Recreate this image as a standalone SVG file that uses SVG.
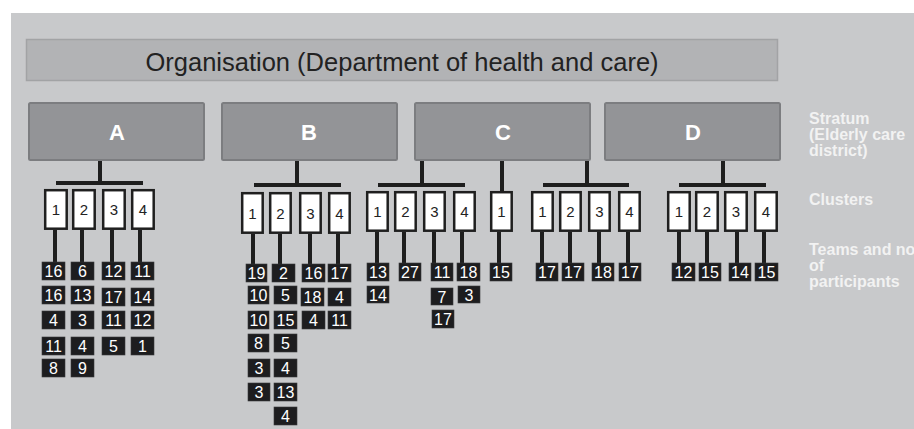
<svg xmlns="http://www.w3.org/2000/svg" width="914" height="429" viewBox="0 0 914 429">
<style>
.panel{fill:#c8c9cb}
.hdr{fill:#b2b3b5;stroke:#a2a3a5;stroke-width:1.5}
.str{fill:#939497;stroke:#7c7d80;stroke-width:2}
.cl{fill:#fff;stroke:#1f1f1f;stroke-width:2.5}
.tm{fill:#1d1d1f;stroke:#3a3a3c;stroke-width:0.6}
.ln{stroke:#1e1e1e;stroke-width:4;fill:none}
text{font-family:"Liberation Sans",Arial,sans-serif}
.ht{font-size:25.5px;fill:#222;text-anchor:middle}
.st{font-size:22px;font-weight:bold;fill:#fff;text-anchor:middle}
.ct{font-size:15px;fill:#222;text-anchor:middle}
.tt{font-size:16px;fill:#fff;text-anchor:middle}
.lb{font-size:16px;font-weight:bold;fill:#f2f2f2}
</style>
<rect class="panel" x="11" y="13" width="903" height="416"/>
<g id="organisation">
<rect class="hdr" x="26.5" y="39.5" width="751" height="41"/>
<text class="ht" x="402" y="71">Organisation (Department of health and care)</text>
</g>
<g id="connectors">
<path class="ln" d="M100 160V183M56 183H143M297 160V185M254 185H341M422 160V185M378 185H465M502 160V191M587 160V185M543 185H629M723 160V185M679 185H766"/>
<path class="ln" d="M55 230V262M82 230V262M112 230V262M140 230V262M253 234V264M280 234V264M310 234V264M338 234V264M377 232V263M404 232V263M434 232V263M462 232V263M499 232V263M542 232V263M570 232V263M599 232V263M628 232V263M679 232V263M707 232V263M737 232V263M764 232V263"/>
</g>
<g id="stratum-A"><rect class="str" x="29" y="103" width="175" height="57" rx="1.5"/><text class="st" x="117" y="140">A</text></g>
<g id="stratum-B"><rect class="str" x="222" y="103" width="175" height="57" rx="1.5"/><text class="st" x="309" y="140">B</text></g>
<g id="stratum-C"><rect class="str" x="415" y="103" width="175" height="57" rx="1.5"/><text class="st" x="503" y="140">C</text></g>
<g id="stratum-D"><rect class="str" x="605" y="103" width="175" height="57" rx="1.5"/><text class="st" x="693" y="140">D</text></g>
<g id="clusters-A">
<rect class="cl" x="45.2" y="190.2" width="21.5" height="38.5"/><text class="ct" x="56" y="215">1</text>
<rect class="cl" x="73.2" y="190.2" width="21.5" height="38.5"/><text class="ct" x="84" y="215">2</text>
<rect class="cl" x="103.2" y="190.2" width="21.5" height="38.5"/><text class="ct" x="114" y="215">3</text>
<rect class="cl" x="132.2" y="190.2" width="21.5" height="38.5"/><text class="ct" x="143" y="215">4</text>
</g>
<g id="clusters-B">
<rect class="cl" x="242.2" y="193.2" width="20.5" height="39.5"/><text class="ct" x="252.5" y="218.5">1</text>
<rect class="cl" x="270.2" y="193.2" width="20.5" height="39.5"/><text class="ct" x="280.5" y="218.5">2</text>
<rect class="cl" x="300.2" y="193.2" width="20.5" height="39.5"/><text class="ct" x="310.5" y="218.5">3</text>
<rect class="cl" x="329.2" y="193.2" width="20.5" height="39.5"/><text class="ct" x="339.5" y="218.5">4</text>
</g>
<g id="clusters-C">
<rect class="cl" x="367.2" y="192.2" width="20.5" height="38.5"/><text class="ct" x="377.5" y="217">1</text>
<rect class="cl" x="395.2" y="192.2" width="20.5" height="38.5"/><text class="ct" x="405.5" y="217">2</text>
<rect class="cl" x="424.2" y="192.2" width="20.5" height="38.5"/><text class="ct" x="434.5" y="217">3</text>
<rect class="cl" x="454.2" y="192.2" width="20.5" height="38.5"/><text class="ct" x="464.5" y="217">4</text>
<rect class="cl" x="491.2" y="192.2" width="20.5" height="38.5"/><text class="ct" x="501.5" y="217">1</text>
<rect class="cl" x="532.2" y="192.2" width="20.5" height="38.5"/><text class="ct" x="542.5" y="217">1</text>
<rect class="cl" x="560.2" y="192.2" width="20.5" height="38.5"/><text class="ct" x="570.5" y="217">2</text>
<rect class="cl" x="589.2" y="192.2" width="20.5" height="38.5"/><text class="ct" x="599.5" y="217">3</text>
<rect class="cl" x="619.2" y="192.2" width="20.5" height="38.5"/><text class="ct" x="629.5" y="217">4</text>
</g>
<g id="clusters-D">
<rect class="cl" x="668.2" y="192.2" width="21.5" height="38.5"/><text class="ct" x="679" y="217">1</text>
<rect class="cl" x="696.2" y="192.2" width="21.5" height="38.5"/><text class="ct" x="707" y="217">2</text>
<rect class="cl" x="725.2" y="192.2" width="21.5" height="38.5"/><text class="ct" x="736" y="217">3</text>
<rect class="cl" x="755.2" y="192.2" width="21.5" height="38.5"/><text class="ct" x="766" y="217">4</text>
</g>
<g id="teams-A">
<rect class="tm" x="42" y="262" width="23" height="18"/><text class="tt" x="53.5" y="277">16</text>
<rect class="tm" x="42" y="286" width="23" height="18"/><text class="tt" x="53.5" y="301">16</text>
<rect class="tm" x="42" y="311" width="23" height="18"/><text class="tt" x="53.5" y="326">4</text>
<rect class="tm" x="42" y="337" width="23" height="18"/><text class="tt" x="53.5" y="352">11</text>
<rect class="tm" x="42" y="359" width="23" height="18"/><text class="tt" x="53.5" y="374">8</text>
<rect class="tm" x="71" y="262" width="23" height="18"/><text class="tt" x="82.5" y="277">6</text>
<rect class="tm" x="71" y="286" width="23" height="18"/><text class="tt" x="82.5" y="301">13</text>
<rect class="tm" x="71" y="311" width="23" height="18"/><text class="tt" x="82.5" y="326">3</text>
<rect class="tm" x="71" y="337" width="23" height="18"/><text class="tt" x="82.5" y="352">4</text>
<rect class="tm" x="71" y="359" width="23" height="18"/><text class="tt" x="82.5" y="374">9</text>
<rect class="tm" x="102" y="262" width="23" height="18"/><text class="tt" x="113.5" y="277">12</text>
<rect class="tm" x="102" y="288" width="23" height="18"/><text class="tt" x="113.5" y="303">17</text>
<rect class="tm" x="102" y="311" width="23" height="18"/><text class="tt" x="113.5" y="326">11</text>
<rect class="tm" x="102" y="337" width="23" height="18"/><text class="tt" x="113.5" y="352">5</text>
<rect class="tm" x="131" y="262" width="23" height="18"/><text class="tt" x="142.5" y="277">11</text>
<rect class="tm" x="131" y="288" width="23" height="18"/><text class="tt" x="142.5" y="303">14</text>
<rect class="tm" x="131" y="311" width="23" height="18"/><text class="tt" x="142.5" y="326">12</text>
<rect class="tm" x="131" y="337" width="23" height="18"/><text class="tt" x="142.5" y="352">1</text>
</g>
<g id="teams-B">
<rect class="tm" x="246" y="264" width="21" height="18"/><text class="tt" x="256.5" y="279">19</text>
<rect class="tm" x="248" y="286" width="21" height="18"/><text class="tt" x="258.5" y="301">10</text>
<rect class="tm" x="248" y="311" width="21" height="18"/><text class="tt" x="258.5" y="326">10</text>
<rect class="tm" x="248" y="334" width="21" height="18"/><text class="tt" x="258.5" y="349">8</text>
<rect class="tm" x="248" y="359" width="22" height="18"/><text class="tt" x="259" y="374">3</text>
<rect class="tm" x="248" y="383" width="22" height="18"/><text class="tt" x="259" y="398">3</text>
<rect class="tm" x="272" y="264" width="23" height="18"/><text class="tt" x="283.5" y="279">2</text>
<rect class="tm" x="274" y="286" width="23" height="18"/><text class="tt" x="285.5" y="301">5</text>
<rect class="tm" x="274" y="311" width="23" height="18"/><text class="tt" x="285.5" y="326">15</text>
<rect class="tm" x="274" y="334" width="23" height="18"/><text class="tt" x="285.5" y="349">5</text>
<rect class="tm" x="274" y="359" width="23" height="18"/><text class="tt" x="285.5" y="374">4</text>
<rect class="tm" x="274" y="383" width="23" height="18"/><text class="tt" x="285.5" y="398">13</text>
<rect class="tm" x="274" y="407" width="23" height="18"/><text class="tt" x="285.5" y="422">4</text>
<rect class="tm" x="302" y="264" width="23" height="18"/><text class="tt" x="313.5" y="279">16</text>
<rect class="tm" x="301" y="288" width="23" height="18"/><text class="tt" x="312.5" y="303">18</text>
<rect class="tm" x="302" y="311" width="23" height="18"/><text class="tt" x="313.5" y="326">4</text>
<rect class="tm" x="328" y="264" width="23" height="18"/><text class="tt" x="339.5" y="279">17</text>
<rect class="tm" x="328" y="288" width="23" height="18"/><text class="tt" x="339.5" y="303">4</text>
<rect class="tm" x="328" y="311" width="23" height="18"/><text class="tt" x="339.5" y="326">11</text>
</g>
<g id="teams-C">
<rect class="tm" x="367" y="263" width="22" height="18"/><text class="tt" x="378" y="278">13</text>
<rect class="tm" x="367" y="286" width="22" height="17"/><text class="tt" x="378" y="300.5">14</text>
<rect class="tm" x="399" y="263" width="22" height="18"/><text class="tt" x="410" y="278">27</text>
<rect class="tm" x="431" y="263" width="22" height="18"/><text class="tt" x="442" y="278">11</text>
<rect class="tm" x="431" y="288" width="22" height="17"/><text class="tt" x="442" y="302.5">7</text>
<rect class="tm" x="432" y="310" width="22" height="18"/><text class="tt" x="443" y="325">17</text>
<rect class="tm" x="457" y="263" width="23" height="18"/><text class="tt" x="468.5" y="278">18</text>
<rect class="tm" x="458" y="286" width="22" height="17"/><text class="tt" x="469" y="300.5">3</text>
<rect class="tm" x="490" y="263" width="22" height="18"/><text class="tt" x="501" y="278">15</text>
<rect class="tm" x="536" y="263" width="22" height="18"/><text class="tt" x="547" y="278">17</text>
<rect class="tm" x="562" y="263" width="22" height="18"/><text class="tt" x="573" y="278">17</text>
<rect class="tm" x="592" y="263" width="22" height="18"/><text class="tt" x="603" y="278">18</text>
<rect class="tm" x="619" y="263" width="22" height="18"/><text class="tt" x="630" y="278">17</text>
</g>
<g id="teams-D">
<rect class="tm" x="672" y="263" width="23" height="18"/><text class="tt" x="683.5" y="278">12</text>
<rect class="tm" x="699" y="263" width="22" height="18"/><text class="tt" x="710" y="278">15</text>
<rect class="tm" x="729" y="263" width="22" height="18"/><text class="tt" x="740" y="278">14</text>
<rect class="tm" x="755" y="263" width="23" height="18"/><text class="tt" x="766.5" y="278">15</text>
</g>
<g id="legend">
<text class="lb" x="809" y="124">Stratum</text>
<text class="lb" x="809" y="140">(Elderly care</text>
<text class="lb" x="809" y="156">district)</text>
<text class="lb" x="809" y="205">Clusters</text>
<text class="lb" x="809" y="255">Teams and no</text>
<text class="lb" x="809" y="271">of</text>
<text class="lb" x="809" y="287">participants</text>
</g>
</svg>
